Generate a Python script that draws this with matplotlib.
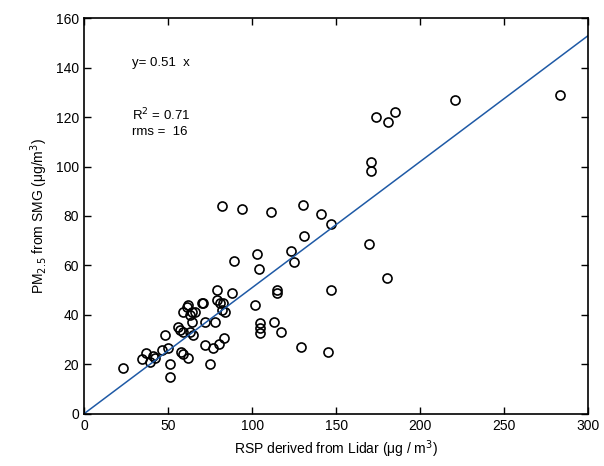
import matplotlib
matplotlib.use('Agg')
import matplotlib.pyplot as plt
import numpy as np

plt.rcParams['font.family'] = ['Liberation Sans', 'DejaVu Sans']

# lidar-derived RSP (x) vs SMG PM2.5 (y)
lidar = [283, 221, 185, 174, 181, 170.5, 170.5,
         82, 94, 111.5, 130, 141, 147, 131, 123, 125, 103, 104, 89, 169.5, 180, 115, 147,
         70, 62, 59, 64, 61, 66, 63, 64, 56, 57, 63, 59, 65, 48,
         75, 50, 46.5, 58, 59, 62, 51, 51, 37, 34.6, 41, 42, 39, 23,
         72, 78, 72, 77, 80.5, 83.5, 79, 79, 83, 82, 84, 88, 81, 71,
         102, 105, 105, 105, 113, 117, 129, 115, 145]
smg = [129, 127, 122, 120, 118, 102, 98,
       84, 83, 81.6, 84.4, 80.8, 76.8, 72, 66, 61.5, 64.5, 58.6, 61.8, 68.7, 55, 50, 50,
       45, 44, 41, 41, 43, 41, 40, 37, 35, 34, 33, 33, 32, 32,
       20, 26.7, 26, 25, 24, 22.6, 20, 15, 24.6, 22, 23.5, 22.6, 21, 18.6,
       37, 37, 28, 26.7, 28.3, 30.7, 50, 46, 45, 42, 41, 49, 45, 45,
       44, 36.8, 34.7, 32.7, 37, 33, 27, 49, 25]

slope = 0.51
fit_x = np.array([0, 300])

fig = plt.figure(figsize=(6.04, 4.66), dpi=100)
ax = fig.add_axes([0.139, 0.112, 0.835, 0.849])

ax.plot(lidar, smg, 'o', mfc='none', mec='black', mew=1.2, ms=6.5)
ax.plot(fit_x, slope * fit_x, color='#1f5aa6', lw=1.1)

ax.set_xlim(0, 300)
ax.set_ylim(0, 160)
ax.set_xticks(range(0, 301, 50))
ax.set_yticks(range(0, 161, 20))
ax.tick_params(direction='in', top=True, right=True, labelsize=10, length=5, width=1)
for s in ax.spines.values():
    s.set_linewidth(1.2)

ax.set_xlabel('RSP derived from Lidar (\u03bcg / m$^3$)', fontsize=10)
ax.set_ylabel('PM$_{2.5}$ from SMG (\u03bcg/m$^3$)', fontsize=10)

ax.text(28.5, 142, 'y= 0.51  x', fontsize=9.5, va='center')
ax.text(28.5, 121, 'R$^2$ = 0.71', fontsize=9.5, va='center')
ax.text(28.5, 114, 'rms =  16', fontsize=9.5, va='center')

fig.savefig('out.png', dpi=100)
